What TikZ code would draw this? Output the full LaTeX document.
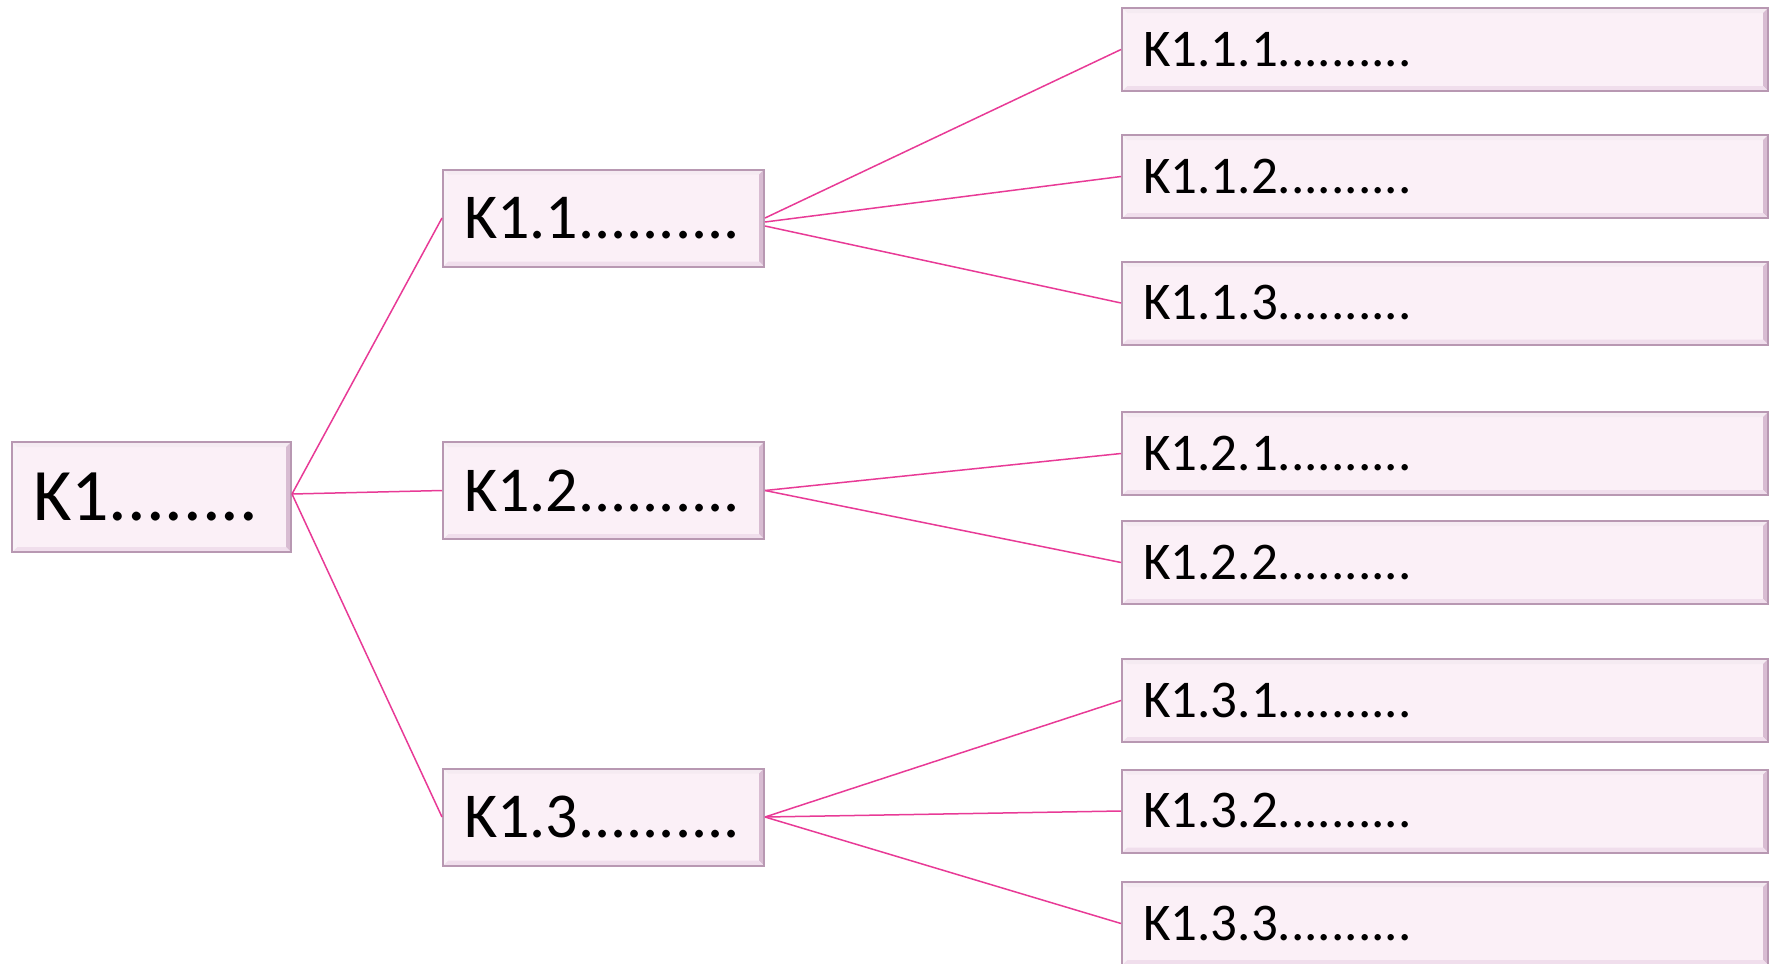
\documentclass[tikz,border=0pt]{standalone}
\usepackage{fontspec}
\setmainfont{Carlito}
\definecolor{linkc}{RGB}{232,58,150}
\definecolor{boxfill}{RGB}{251,240,247}
\definecolor{boxedge}{RGB}{184,152,178}
\definecolor{bevtop}{RGB}{245,235,242}
\definecolor{bevright}{RGB}{216,188,210}
\definecolor{bevbot}{RGB}{240,222,236}
\definecolor{bevleft}{RGB}{249,242,247}
\tikzset{
  box/.style={draw=boxedge, line width=1pt, fill=boxfill, align=left,
    inner xsep=10.5pt, inner ysep=0pt,
    path picture={
      \path (path picture bounding box.north west) coordinate (pNW)
            (path picture bounding box.north east) coordinate (pNE)
            (path picture bounding box.south west) coordinate (pSW)
            (path picture bounding box.south east) coordinate (pSE);
      \fill[bevtop] (pNW) -- (pNE) -- ([shift={(-2.5pt,-2.5pt)}]pNE) -- ([shift={(2.5pt,-2.5pt)}]pNW) -- cycle;
      \fill[bevright] (pNE) -- (pSE) -- ([shift={(-2.5pt,2.5pt)}]pSE) -- ([shift={(-2.5pt,-2.5pt)}]pNE) -- cycle;
      \fill[bevbot] (pSW) -- (pSE) -- ([shift={(-2.5pt,2.5pt)}]pSE) -- ([shift={(2.5pt,2.5pt)}]pSW) -- cycle;
      \fill[bevleft] (pNW) -- (pSW) -- ([shift={(2.5pt,2.5pt)}]pSW) -- ([shift={(2.5pt,-2.5pt)}]pNW) -- cycle;
    }},
  lvlA/.style={box, font=\fontsize{37}{40}\selectfont, text width=118.5pt, minimum height=55pt},
  lvlB/.style={box, font=\fontsize{32}{36}\selectfont, text width=139.5pt, minimum height=48.5pt},
  lvlC/.style={box, font=\fontsize{26.5}{30}\selectfont, text width=302pt, minimum height=41.5pt},
  link/.style={draw=linkc, line width=0.75pt}
}
\begin{document}
\begin{tikzpicture}[x=0.5pt, y=-0.5pt]
\useasboundingbox (0,0) rectangle (1769,964);
\node[lvlA] (k1) at (151.5,497) {K1........};
\node[lvlB] (k11) at (603.5,218) {K1.1..........};
\node[lvlB] (k12) at (603.5,490.5) {K1.2..........};
\node[lvlB] (k13) at (603.5,817) {K1.3..........};
\node[lvlC] (k111) at (1445,49.5) {K1.1.1..........};
\node[lvlC] (k112) at (1445,176.5) {K1.1.2..........};
\node[lvlC] (k113) at (1445,303) {K1.1.3..........};
\node[lvlC] (k121) at (1445,453.5) {K1.2.1..........};
\node[lvlC] (k122) at (1445,562.5) {K1.2.2..........};
\node[lvlC] (k131) at (1445,700.5) {K1.3.1..........};
\node[lvlC] (k132) at (1445,811) {K1.3.2..........};
\node[lvlC] (k133) at (1445,923.5) {K1.3.3..........};
\draw[link] ([yshift=1.5pt]k1.east) -- (k11.west);
\draw[link] ([yshift=1.5pt]k1.east) -- (k12.west);
\draw[link] ([yshift=1.5pt]k1.east) -- (k13.west);
\draw[link] (k11.east) -- (k111.west);
\draw[link] ([yshift=-2pt]k11.east) -- (k112.west);
\draw[link] ([yshift=-4pt]k11.east) -- (k113.west);
\draw[link] (k12.east) -- (k121.west);
\draw[link] (k12.east) -- (k122.west);
\draw[link] (k13.east) -- (k131.west);
\draw[link] (k13.east) -- (k132.west);
\draw[link] (k13.east) -- (k133.west);
\end{tikzpicture}
\end{document}
